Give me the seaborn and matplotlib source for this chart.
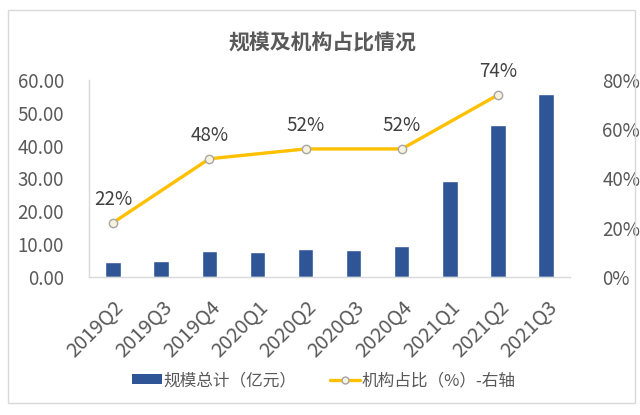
import matplotlib
matplotlib.use("Agg")
import matplotlib.pyplot as plt
import seaborn as sns
import pandas as pd
from matplotlib.lines import Line2D
from matplotlib.patches import Patch, Rectangle
from matplotlib.ticker import FuncFormatter

# data
quarters = ["2019Q2", "2019Q3", "2019Q4", "2020Q1", "2020Q2",
            "2020Q3", "2020Q4", "2021Q1", "2021Q2", "2021Q3"]
scale_total = [4.6, 4.7, 7.8, 7.6, 8.5, 8.3, 9.3, 29.1, 46.3, 55.9]

ratio_quarters = ["2019Q2", "2019Q4", "2020Q2", "2020Q4", "2021Q2"]
ratio_pct = [22, 48, 52, 52, 74]

bar_color = "#2F5597"
line_color = "#FFC000"
text_color = "#595959"

sns.set_style("white")
plt.rcParams["font.family"] = ["Noto Sans CJK SC", "DejaVu Sans"]

fig = plt.figure(figsize=(6.4, 4.15), dpi=100)
ax = fig.add_axes([0.139, 0.333, 0.752, 0.474])

df = pd.DataFrame({"quarter": quarters, "total": scale_total})
sns.barplot(data=df, x="quarter", y="total", color=bar_color, width=0.32,
            saturation=1, ax=ax)

ax.set_ylim(0, 60)
ax.set_yticks(range(0, 61, 10))
ax.yaxis.set_major_formatter(FuncFormatter(lambda v, p: f"{v:.2f}"))
ax.set_xlabel("")
ax.set_ylabel("")
ax.tick_params(axis="y", length=0, labelsize=13.5, labelcolor=text_color, pad=18)
ax.tick_params(axis="x", length=0, labelsize=14.5, labelcolor=text_color, pad=14)
for lbl in ax.get_xticklabels():
    lbl.set_rotation(45)
    lbl.set_ha("right")
    lbl.set_rotation_mode("anchor")
for side in ["top", "right"]:
    ax.spines[side].set_visible(False)
for side in ["left", "bottom"]:
    ax.spines[side].set_color("#D9D9D9")
    ax.spines[side].set_linewidth(1)
ax.set_xlim(-0.5, len(quarters) - 0.5)

ax2 = ax.twinx()
line_df = pd.DataFrame({
    "pos": [quarters.index(q) for q in ratio_quarters],
    "pct": ratio_pct,
})
sns.lineplot(data=line_df, x="pos", y="pct", color=line_color, linewidth=2.4,
             marker="o", markersize=6, markerfacecolor="#F7F2E0",
             markeredgecolor="#A5A5A5", markeredgewidth=1, ax=ax2)
for x, y in zip(line_df["pos"], line_df["pct"]):
    ax2.annotate(f"{y}%", (x, y), xytext=(0, 9), textcoords="offset points",
                 ha="center", va="bottom", fontsize=13.5, color="#404040")

ax2.set_ylim(0, 80)
ax2.set_yticks(range(0, 81, 20))
ax2.yaxis.set_major_formatter(FuncFormatter(lambda v, p: f"{v:.0f}%"))
ax2.set_xlabel("")
ax2.set_ylabel("")
ax2.tick_params(axis="y", length=0, labelsize=13.5, labelcolor=text_color, pad=23)
for side in ["top", "right", "left", "bottom"]:
    ax2.spines[side].set_visible(False)
ax2.set_xlim(-0.5, len(quarters) - 0.5)

fig.text(0.503, 0.897, "规模及机构占比情况", ha="center", va="center",
         fontsize=15, fontweight="bold", color=text_color)

handles = [
    Patch(facecolor=bar_color, edgecolor="none"),
    Line2D([0], [0], color=line_color, linewidth=2.4, marker="o", markersize=5,
           markerfacecolor="#F7F2E0", markeredgecolor="#A5A5A5"),
]
fig.legend(handles, ["规模总计（亿元）", "机构占比（%）-右轴"], loc="center",
           bbox_to_anchor=(0.506, 0.083), ncol=2, frameon=False, fontsize=12,
           labelcolor=text_color, handlelength=1.8, handleheight=0.55,
           handletextpad=0.1, columnspacing=2.0)

fig.patches.append(Rectangle((0.013, 0.03), 0.979, 0.945, transform=fig.transFigure,
                             fill=False, edgecolor="#D9D9D9", linewidth=1))

fig.savefig("out.png", dpi=100)
